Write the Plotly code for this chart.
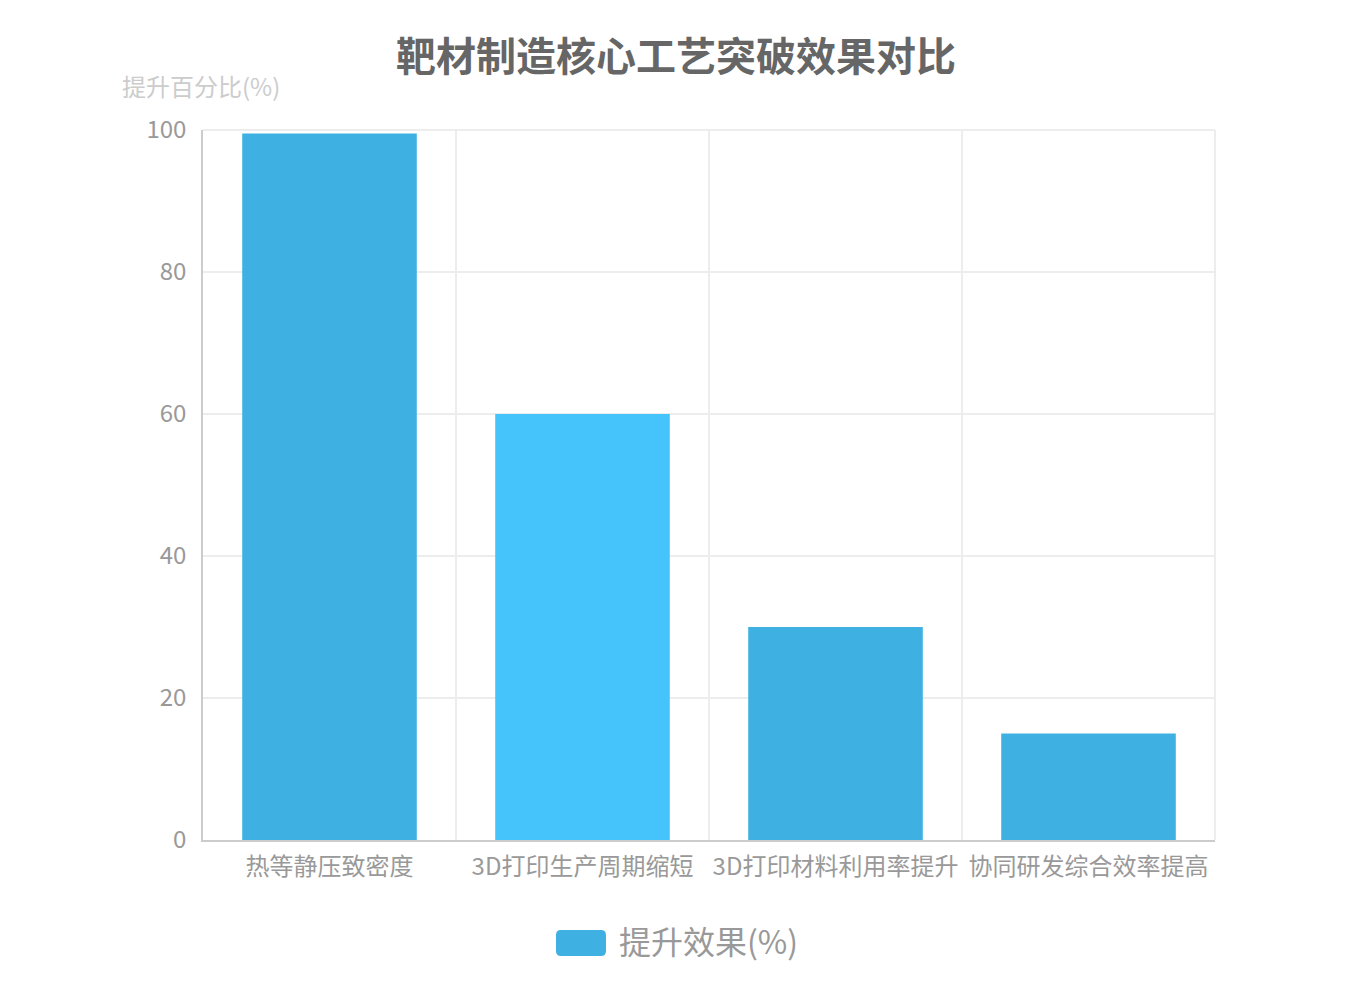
import plotly.graph_objects as go

categories = ["热等静压致密度", "3D打印生产周期缩短", "3D打印材料利用率提升", "协同研发综合效率提高"]
values = [99.5, 60, 30, 15]
series_name = "提升效果(%)"
y_ticks = [0, 20, 40, 60, 80, 100]

bar_colors = ["#3EB0E1", "#45C3FB", "#3EB0E1", "#3EB0E1"]
FONT = "Noto Sans CJK SC, Microsoft YaHei, sans-serif"
GRID = "#EDEDED"

fig = go.Figure()
fig.add_trace(go.Bar(
    x=categories, y=values, name=series_name,
    marker=dict(color=bar_colors, line=dict(width=0)),
    showlegend=False,
))

# legend swatch (rounded rectangle) in paper coords
x0, x1, y0, y1 = 0.3488, 0.3982, -0.1634, -0.1268
rx, ry = 0.0049, 0.0070
swatch = (f"M {x0+rx},{y0} L {x1-rx},{y0} Q {x1},{y0} {x1},{y0+ry} "
          f"L {x1},{y1-ry} Q {x1},{y1} {x1-rx},{y1} L {x0+rx},{y1} "
          f"Q {x0},{y1} {x0},{y1-ry} L {x0},{y0+ry} Q {x0},{y0} {x0+rx},{y0} Z")

fig.update_layout(
    width=1350, height=1000,
    paper_bgcolor="white", plot_bgcolor="white",
    margin=dict(l=195, r=143, t=122, b=168, autoexpand=False),
    font=dict(family=FONT, color="#999999"),
    title=dict(text="<b>靶材制造核心工艺突破效果对比</b>", x=0.4948, xanchor="center",
               y=0.951, yanchor="middle",
               font=dict(size=40, color="#666666", family=FONT)),
    bargap=0.31,
    showlegend=False,
    xaxis=dict(
        type="category", tickson="boundaries", showgrid=True, gridcolor=GRID,
        gridwidth=2, showline=True, linecolor="#CCCCCC", linewidth=2,
        ticks="", tickfont=dict(size=24, color="#999999", family=FONT),
        range=[-0.5, 3.5], ticklabelstandoff=4, tickangle=0, automargin=False,
    ),
    yaxis=dict(
        range=[0, 100], tickvals=y_ticks, showgrid=True, gridcolor=GRID,
        gridwidth=2, showline=True, linecolor="#CCCCCC", linewidth=1.5,
        ticks="", tickfont=dict(size=24, color="#999999", family=FONT),
        zeroline=False, ticklabelstandoff=10, automargin=False,
    ),
    shapes=[
        dict(type="line", xref="paper", yref="paper", x0=0, x1=1, y0=1, y1=1,
             line=dict(color=GRID, width=2), layer="below"),
        dict(type="line", xref="paper", yref="paper", x0=1, x1=1, y0=0, y1=1,
             line=dict(color=GRID, width=2), layer="below"),
        dict(type="path", xref="paper", yref="paper", path=swatch,
             fillcolor="#3EB0E1", line=dict(width=0)),
    ],
    annotations=[
        dict(text="提升百分比(%)", xref="paper", yref="paper", x=-0.082, y=1.062,
             xanchor="left", yanchor="middle", showarrow=False,
             font=dict(size=24, color="#CCCCCC", family=FONT)),
        dict(text=series_name, xref="paper", yref="paper", x=0.4091, y=-0.1409,
             xanchor="left", yanchor="middle", showarrow=False,
             font=dict(size=32, color="#999999", family=FONT)),
    ],
)

fig.write_html("out.html")
